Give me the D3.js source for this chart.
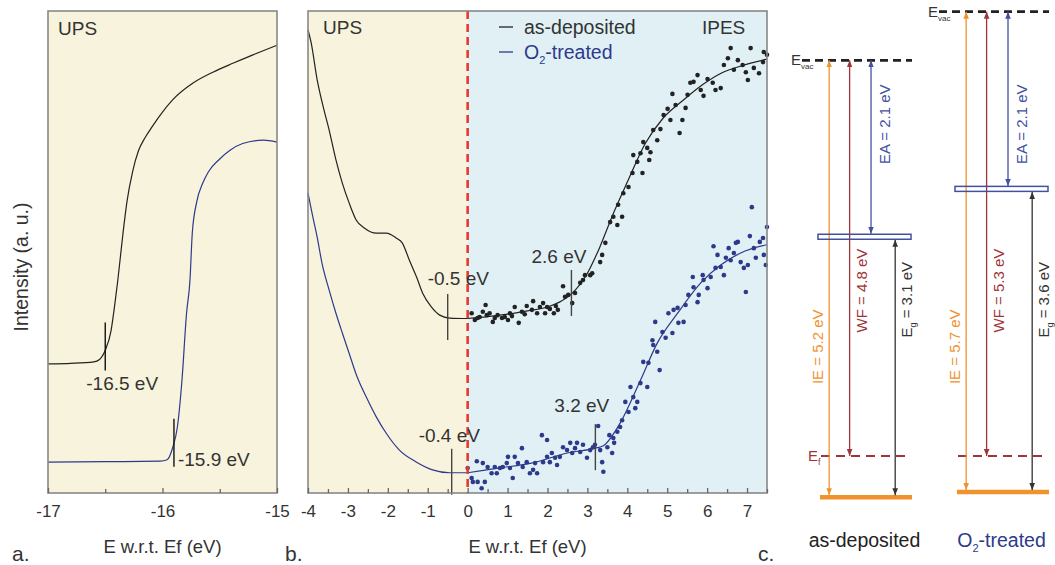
<html>
<head>
<meta charset="utf-8">
<script src="https://d3js.org/d3.v7.min.js"></script>
<style>
  body { margin:0; background:#fff; }
  text { font-family: "Liberation Sans", Arial, sans-serif; fill:#333; }
</style>
</head>
<body>
<svg id="fig" width="1055" height="565"></svg>
<script>
// ---- panel a: secondary electron cutoff (UPS) ----
var secoAsDep = [[-17,26.8],[-16.8,26.9],[-16.6,27.2],[-16.55,27.7],[-16.5,29.6],[-16.45,33.6],[-16.42,38.5],[-16.39,44.2],[-16.345,53.9],
  [-16.31,60.5],[-16.26,66.8],[-16.21,71.0],[-16.15,73.8],[-16.09,76.0],[-16.02,78.4],[-15.91,81.6],[-15.73,85.1],[-15.56,87.3],[-15.38,89.2],[-15.21,90.9],[-15.0,92.9]];
var secoO2 = [[-17,6.4],[-16.5,6.5],[-16.02,6.6],[-15.96,6.9],[-15.91,9.5],[-15.87,13.7],[-15.83,23.4],[-15.79,37.3],[-15.76,44.2],[-15.74,53.9],
  [-15.70,60.5],[-15.65,64.2],[-15.60,66.6],[-15.50,69.3],[-15.41,71.1],[-15.30,72.5],[-15.12,73.2],[-15.0,72.8]];
var cutoffs = [{e:-16.5, i:30, label:"-16.5 eV"}, {e:-15.9, i:10, label:"-15.9 eV"}];

// ---- panel b: UPS valence + IPES ----
var upsAsDep = [[-4.0,96.1],[-3.92,93.4],[-3.77,85.7],[-3.60,79.5],[-3.47,75.3],[-3.30,69.1],[-3.14,64.3],[-2.97,60.2],[-2.79,56.6],[-2.59,55.0],
  [-2.29,53.9],[-2.04,53.9],[-1.79,52.9],[-1.64,51.9],[-1.46,48.3],[-1.28,44.8],[-1.13,41.5],[-0.91,38.6],[-0.70,36.9],[-0.45,36.3],[0,36.2]];
var upsO2 = [[-4.0,62.2],[-3.9,58.1],[-3.77,53.1],[-3.65,47.7],[-3.47,42.1],[-3.30,37.3],[-3.14,33.2],[-2.97,29.0],[-2.77,24.1],[-2.54,19.9],
  [-2.29,15.8],[-2.04,12.4],[-1.71,8.9],[-1.28,6.4],[-0.88,4.8],[-0.45,4.2],[0,4.2]];
var fitAsDep = [[0,36.2],[0.5,36.6],[1.0,37.1],[1.5,37.8],[2.0,38.6],[2.3,39.6],[2.6,41.3],[3.0,45.6],[3.3,50.8],[3.65,58.0],[4.0,64.5],
  [4.45,72.5],[4.9,77.8],[5.4,81.5],[5.9,84.8],[6.35,87.1],[6.85,88.6],[7.5,90.0]];
var fitO2 = [[0,4.2],[0.8,5.2],[1.6,6.2],[2.5,8.3],[3.2,9.3],[3.4,9.8],[3.82,14.5],[4.33,23.4],[4.75,31.1],[5.26,37.3],[5.84,43.6],
  [6.34,47.3],[6.84,49.8],[7.5,51.5]];
var ipesAsDep = [[0.10,37.3],[0.18,35.9],[0.25,36.3],[0.30,36.5],[0.38,37.6],[0.45,39.0],[0.48,36.9],[0.55,37.3],[0.63,35.5],[0.68,36.3],
  [0.75,36.9],[0.86,36.3],[0.93,36.5],[1.01,35.9],[1.06,37.3],[1.11,36.7],[1.18,38.6],[1.28,35.3],[1.36,37.6],[1.43,37.1],[1.48,38.8],
  [1.61,38.0],[1.64,39.8],[1.74,37.3],[1.81,38.6],[1.89,39.4],[1.94,37.3],[1.99,38.6],[2.06,38.2],[2.16,37.3],[2.21,38.8],[2.26,38.0],
  [2.39,42.9],[2.44,40.7],[2.52,41.1],[2.62,39.4],[2.69,41.5],[2.82,43.6],[2.89,44.2],[2.94,45.2],[3.07,45.2],[3.12,45.6],[3.32,47.9],
  [3.37,49.4],[3.45,51.9],[3.57,56.2],[3.65,57.3],[3.75,55.6],[3.77,59.8],[3.87,57.3],[3.90,62.2],[4.03,63.5],[4.13,66.4],[4.15,70.1],
  [4.25,68.7],[4.33,70.5],[4.38,66.4],[4.40,72.8],[4.50,71.6],[4.55,69.1],[4.58,70.7],[4.65,75.3],[4.75,73.2],[4.83,75.5],[4.91,78.4],
  [5.01,79.7],[5.08,77.4],[5.13,82.8],[5.21,80.5],[5.31,74.7],[5.38,77.4],[5.46,79.9],[5.51,82.6],[5.58,85.1],[5.66,85.3],[5.76,86.7],
  [5.84,83.6],[5.91,82.4],[6.01,85.9],[6.14,85.1],[6.21,83.6],[6.34,84.0],[6.42,88.8],[6.52,90.2],[6.59,92.3],[6.67,87.8],[6.77,89.8],
  [6.89,88.8],[6.97,87.3],[7.02,85.7],[7.09,92.3],[7.17,88.2],[7.30,87.1],[7.40,89.4],[7.42,91.5],[7.50,90.9]];
var ipesO2 = [[0.00,5.2],[0.10,3.1],[0.13,2.3],[0.23,6.6],[0.25,2.3],[0.35,1.0],[0.38,6.2],[0.43,2.3],[0.50,5.4],[0.60,4.1],[0.68,5.4],
  [0.73,4.1],[0.81,5.2],[0.88,5.4],[0.98,6.2],[1.01,7.5],[1.06,5.2],[1.13,3.1],[1.18,7.5],[1.26,6.2],[1.36,9.3],[1.38,5.4],[1.48,6.4],
  [1.56,4.1],[1.64,4.8],[1.69,6.2],[1.74,4.1],[1.86,12.0],[1.89,6.4],[1.99,11.0],[1.99,7.5],[2.06,6.4],[2.11,8.3],[2.19,7.3],[2.24,5.8],
  [2.31,7.5],[2.39,9.5],[2.49,8.9],[2.57,10.4],[2.62,8.3],[2.69,9.3],[2.74,10.4],[2.82,8.5],[2.89,10.0],[2.99,7.3],[3.07,8.9],[3.14,9.5],
  [3.19,10.0],[3.27,13.9],[3.32,8.9],[3.37,6.4],[3.40,4.4],[3.50,9.5],[3.55,12.0],[3.62,8.3],[3.65,11.4],[3.67,10.4],[3.75,12.7],
  [3.82,13.7],[3.87,15.1],[3.95,18.9],[4.03,16.8],[4.08,22.0],[4.15,19.9],[4.20,17.6],[4.25,18.9],[4.33,22.8],[4.40,27.2],[4.50,22.0],
  [4.53,27.0],[4.63,31.7],[4.65,30.7],[4.70,35.5],[4.75,29.3],[4.81,25.5],[4.88,33.4],[4.96,32.2],[5.03,37.3],[5.13,33.2],[5.16,38.0],
  [5.26,38.4],[5.28,35.3],[5.41,35.5],[5.46,39.0],[5.53,41.1],[5.64,44.8],[5.66,42.7],[5.76,39.6],[5.79,41.1],[5.89,45.2],[5.91,44.2],
  [6.01,42.5],[6.09,44.8],[6.16,51.2],[6.21,46.7],[6.26,49.4],[6.34,46.9],[6.42,45.2],[6.47,48.8],[6.54,50.8],[6.59,48.3],[6.67,49.8],
  [6.72,51.9],[6.77,52.1],[6.84,47.9],[6.92,46.7],[6.97,41.7],[7.02,47.3],[7.07,53.3],[7.12,59.3],[7.17,50.8],[7.22,48.8],[7.32,52.1],
  [7.40,52.9],[7.42,49.4],[7.47,47.3],[7.50,55.2]];
var onsets = [{e:-0.5, i:36.3, label:"-0.5 eV"}, {e:2.6, i:41.3, label:"2.6 eV"}, {e:-0.4, i:4.2, label:"-0.4 eV"}, {e:3.2, i:9.3, label:"3.2 eV"}];

// ---- panel c: energy level diagrams (eV relative to Ef) ----
var diagrams = ["as-deposited", "O2-treated"];
var evac = [4.71, 5.29];
var lumo = [2.61, 3.18];
var homo = [-0.49, -0.43];
var ieLab = ["5.2", "5.7"];
var wfLab = ["4.8", "5.3"];
var eaLab = ["2.1", "2.1"];
var egLab = ["3.1", "3.6"];

var BLACK = "#222", BLUE = "#2d3a8c";
var YELLOW = "#f8f3dc", CYAN = "#e0f0f4";
var ORANGE = "#f0922e", DRED = "#9f3539", LBLUE = "#4151a0", GREY = "#333";

var svg = d3.select("#fig");
var yTop = 11, yBot = 493;
var line = d3.line().x(d => d[0]).y(d => d[1]).curve(d3.curveMonotoneX);

function axis(x, major, minor) {
  var g = svg.append("g").attr("transform", "translate(0," + yBot + ")");
  g.append("g").call(d3.axisBottom(x).tickValues(minor).tickSize(-4).tickFormat(""));
  g.append("g").call(d3.axisBottom(x).tickValues(major).tickSize(-5).tickPadding(12).tickFormat(d => String(d)))
    .selectAll("text").attr("font-size", 17).style("fill", "#333");
  g.selectAll(".domain").remove();
  g.selectAll(".tick line").attr("stroke", "#666").attr("stroke-width", 1.3);
  return g;
}

function drawLine(x, y, data, color) {
  svg.append("path").attr("d", line(data.map(d => [x(d[0]), y(d[1])])))
    .attr("fill", "none").attr("stroke", color).attr("stroke-width", 1.2);
}

// ===== panel a =====
var xa = d3.scaleLinear().domain([-17, -15]).range([48, 277]);
var ya = d3.scaleLinear().domain([0, 100]).range([yBot, yTop]);
svg.append("rect").attr("x", xa(-17)).attr("y", yTop).attr("width", xa(-15) - xa(-17)).attr("height", yBot - yTop).attr("fill", YELLOW);
drawLine(xa, ya, secoAsDep, BLACK);
drawLine(xa, ya, secoO2, BLUE);
cutoffs.forEach(function(c, k) {
  var y0 = ya(c.i);
  svg.append("line").attr("x1", xa(c.e)).attr("x2", xa(c.e)).attr("y1", y0 - 26).attr("y2", y0 + 22)
    .attr("stroke", "#111").attr("stroke-width", 1.4);
  if (k == 0) svg.append("text").attr("x", xa(c.e) - 19).attr("y", y0 + 42).attr("font-size", 19).text(c.label);
  else svg.append("text").attr("x", xa(c.e) + 4).attr("y", y0 + 21).attr("font-size", 19).text(c.label);
});
svg.append("rect").attr("x", xa(-17)).attr("y", yTop).attr("width", xa(-15) - xa(-17)).attr("height", yBot - yTop)
  .attr("fill", "none").attr("stroke", "#888").attr("stroke-width", 1.6);
axis(xa, [-17, -16, -15], [-16.5, -15.5]);
svg.append("text").attr("x", 58).attr("y", 35).attr("font-size", 19).text("UPS");
svg.append("text").attr("x", xa(-16)).attr("y", 553).attr("text-anchor", "middle").attr("font-size", 18.5).text("E w.r.t. Ef (eV)");
svg.append("text").attr("transform", "translate(28,267) rotate(-90)").attr("text-anchor", "middle").attr("font-size", 19.5).text("Intensity (a. u.)");
svg.append("text").attr("x", 12).attr("y", 561).attr("font-size", 21).text("a.");

// ===== panel b =====
var xb = d3.scaleLinear().domain([-4, 7.5]).range([308, 767]);
var yb = d3.scaleLinear().domain([0, 100]).range([yBot, yTop]);
svg.append("rect").attr("x", xb(-4)).attr("y", yTop).attr("width", xb(0) - xb(-4)).attr("height", yBot - yTop).attr("fill", YELLOW);
svg.append("rect").attr("x", xb(0)).attr("y", yTop).attr("width", xb(7.5) - xb(0)).attr("height", yBot - yTop).attr("fill", CYAN);
drawLine(xb, yb, upsAsDep, BLACK);
drawLine(xb, yb, upsO2, BLUE);
drawLine(xb, yb, fitAsDep, BLACK);
drawLine(xb, yb, fitO2, BLUE);
svg.append("g").selectAll("circle").data(ipesAsDep).join("circle")
  .attr("cx", d => xb(d[0])).attr("cy", d => yb(d[1])).attr("r", 2.3).attr("fill", BLACK);
svg.append("g").selectAll("circle").data(ipesO2).join("circle")
  .attr("cx", d => xb(d[0])).attr("cy", d => yb(d[1])).attr("r", 2.3).attr("fill", BLUE);
svg.append("line").attr("x1", xb(0)).attr("x2", xb(0)).attr("y1", yTop).attr("y2", yBot)
  .attr("stroke", "#e6392f").attr("stroke-width", 2.6).attr("stroke-dasharray", "8,5");
var onsetText = [{dx:-20, dy:-33, a:"start"}, {dx:15, dy:-31, a:"end"}, {dx:-33, dy:-31, a:"start"}, {dx:-41, dy:-36, a:"start"}];
onsets.forEach(function(o, k) {
  var y0 = yb(o.i), t = onsetText[k];
  svg.append("line").attr("x1", xb(o.e)).attr("x2", xb(o.e)).attr("y1", y0 - 24).attr("y2", y0 + 22)
    .attr("stroke", "#444").attr("stroke-width", 1.4);
  svg.append("text").attr("x", xb(o.e) + t.dx).attr("y", y0 + t.dy).attr("text-anchor", t.a).attr("font-size", 19).text(o.label);
});
svg.append("rect").attr("x", xb(-4)).attr("y", yTop).attr("width", xb(7.5) - xb(-4)).attr("height", yBot - yTop)
  .attr("fill", "none").attr("stroke", "#888").attr("stroke-width", 1.6);
axis(xb, d3.range(-4, 8), d3.range(-3.5, 7.6, 1));
svg.append("text").attr("x", 323).attr("y", 34).attr("font-size", 19).text("UPS");
svg.append("text").attr("x", 702).attr("y", 34).attr("font-size", 19).text("IPES");
svg.append("line").attr("x1", 499).attr("x2", 513).attr("y1", 27).attr("y2", 27).attr("stroke", BLACK).attr("stroke-width", 1.3);
svg.append("text").attr("x", 524).attr("y", 34).attr("font-size", 19.5).text("as-deposited");
svg.append("line").attr("x1", 499).attr("x2", 513).attr("y1", 52).attr("y2", 52).attr("stroke", BLUE).attr("stroke-width", 1.3);
var lt = svg.append("text").attr("x", 524).attr("y", 59).attr("font-size", 19.5).style("fill", BLUE);
lt.append("tspan").text("O");
lt.append("tspan").attr("font-size", 11).attr("dy", 5).text("2");
lt.append("tspan").attr("dy", -5).text("-treated");
svg.append("text").attr("x", xb(1.5)).attr("y", 553).attr("text-anchor", "middle").attr("font-size", 18.5).text("E w.r.t. Ef (eV)");
svg.append("text").attr("x", 285).attr("y", 561).attr("font-size", 21).text("b.");

// ===== panel c =====
var xc = d3.scaleBand().domain(diagrams).range([818, 1048]).paddingInner(0.321).paddingOuter(0);
var yc = d3.scaleLinear().domain([-0.6, 5.4]).range([506.4, 2.4]);
var bw = xc.bandwidth();
var defs = svg.append("defs");
[["or", ORANGE], ["dr", DRED], ["bl", LBLUE], ["bk", GREY]].forEach(function(m) {
  defs.append("marker").attr("id", "m-" + m[0]).attr("viewBox", "0 0 10 10").attr("refX", 10).attr("refY", 5)
    .attr("markerWidth", 7).attr("markerHeight", 7).attr("markerUnits", "userSpaceOnUse").attr("orient", "auto-start-reverse")
    .append("path").attr("d", "M0,1 L10,5 L0,9 Z").attr("fill", m[1]);
});

function sub(t, main, s, rest, size) {
  t.append("tspan").text(main);
  t.append("tspan").attr("font-size", size).attr("dy", 4).text(s);
  if (rest) t.append("tspan").attr("dy", -4).text(rest);
}

diagrams.forEach(function(name, k) {
  var x0 = xc(name), g = svg.append("g");
  // vacuum level
  g.append("line").attr("x1", x0 - 16).attr("x2", x0 + bw + 1).attr("y1", yc(evac[k])).attr("y2", yc(evac[k]))
    .attr("stroke", "#222").attr("stroke-width", 2.6).attr("stroke-dasharray", "8,5");
  sub(g.append("text").attr("x", x0 - 27).attr("y", yc(evac[k]) + 5).attr("font-size", 15), "E", "vac", null, 8);
  // Fermi level
  g.append("line").attr("x1", x0 + 3).attr("x2", x0 + bw - 1).attr("y1", yc(0)).attr("y2", yc(0))
    .attr("stroke", DRED).attr("stroke-width", 2.2).attr("stroke-dasharray", "9,6");
  if (k == 0) sub(g.append("text").attr("x", x0 - 10).attr("y", yc(0) + 5).attr("font-size", 15).style("fill", DRED), "E", "f", null, 9);
  // HOMO
  g.append("line").attr("x1", x0 + 2).attr("x2", x0 + bw + 1).attr("y1", yc(homo[k])).attr("y2", yc(homo[k]))
    .attr("stroke", ORANGE).attr("stroke-width", 4.5);
  // arrows
  var ax = function(f) { return x0 + f * bw; };
  var arrows = [
    {x: ax(0.12), y1: yc(evac[k]), y2: yc(homo[k]) - 2, c: ORANGE, m: "or"},
    {x: ax(0.34), y1: yc(evac[k]), y2: yc(0), c: DRED, m: "dr"},
    {x: ax(0.57), y1: yc(evac[k]), y2: yc(lumo[k]) - 3, c: LBLUE, m: "bl"},
    {x: ax(0.83), y1: yc(lumo[k]) + 3, y2: yc(homo[k]) - 2, c: GREY, m: "bk"}
  ];
  arrows.forEach(function(a) {
    g.append("line").attr("x1", a.x).attr("x2", a.x).attr("y1", a.y1).attr("y2", a.y2)
      .attr("stroke", a.c).attr("stroke-width", 1.3)
      .attr("marker-start", "url(#m-" + a.m + ")").attr("marker-end", "url(#m-" + a.m + ")");
  });
  // LUMO box
  g.append("rect").attr("x", x0).attr("y", yc(lumo[k]) - 2.5).attr("width", bw).attr("height", 5)
    .attr("fill", "none").attr("stroke", LBLUE).attr("stroke-width", 1.5);
  // rotated labels
  function rlab(x, e, color) {
    return g.append("text").attr("transform", "translate(" + x + "," + yc(e) + ") rotate(-90)")
      .attr("text-anchor", "middle").attr("font-size", 15).style("fill", color);
  }
  rlab(ax(0.12) - 6, 1.30, ORANGE).text("IE = " + ieLab[k] + " eV");
  rlab(ax(0.34) + 17, 1.97, DRED).text("WF = " + wfLab[k] + " eV");
  rlab(ax(0.57) + 19, 3.95, LBLUE).text("EA = " + eaLab[k] + " eV");
  sub(rlab(ax(0.83) + 17, 1.86, GREY), "E", "g", " = " + egLab[k] + " eV", 9);
  // diagram name
  var t = g.append("text").attr("x", x0 + bw / 2).attr("y", 547).attr("text-anchor", "middle").attr("font-size", 19.5)
    .style("fill", k == 0 ? "#222" : BLUE);
  if (k == 0) t.text(name);
  else { t.append("tspan").text("O"); t.append("tspan").attr("font-size", 11).attr("dy", 5).text("2"); t.append("tspan").attr("dy", -5).text("-treated"); }
});
svg.append("text").attr("x", 758).attr("y", 561).attr("font-size", 21).text("c.");
</script>
</body>
</html>
